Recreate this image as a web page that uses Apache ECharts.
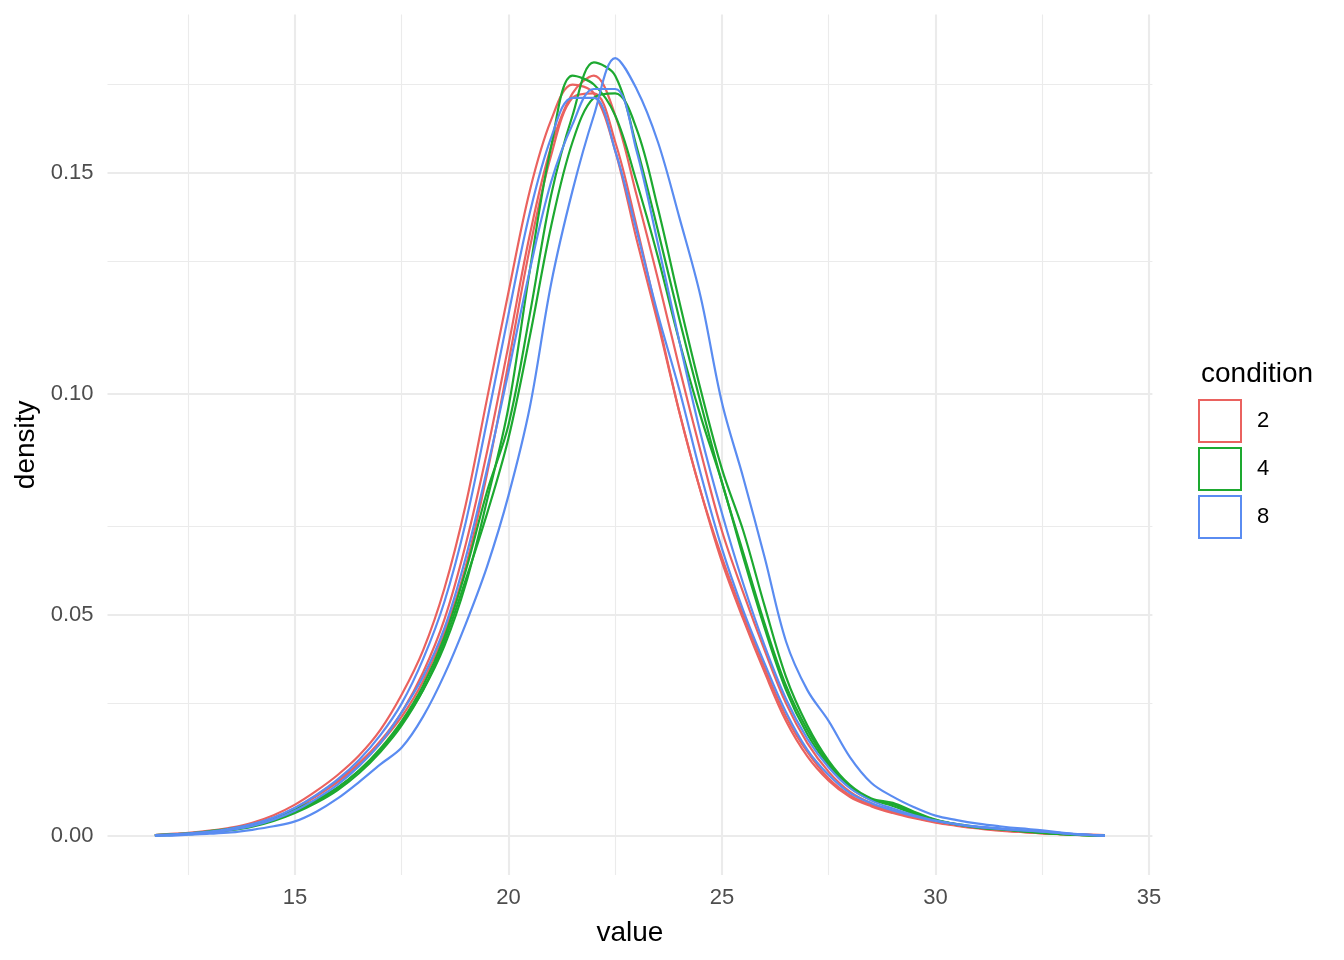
<!DOCTYPE html>
<html><head><meta charset="utf-8">
<script src="https://cdn.jsdelivr.net/npm/echarts@6/dist/echarts.min.js"></script>
<style>html,body{margin:0;padding:0;background:#fff}#c{width:1344px;height:960px}</style>
</head><body><div id="c"></div>
<script>
const xValues = [11.72,12,12.5,13,13.5,14,14.5,15,15.5,16,16.5,17,17.5,18,18.5,19,19.5,20,20.5,21,21.5,22,22.5,23,23.5,24,24.5,25,25.5,26,26.5,27,27.5,28,28.5,29,29.5,30,30.5,31,31.5,32,32.5,33,33.5,33.97];

const cond2a = [0.0002,0.0004,0.0007,0.0012,0.0019,0.0030,0.0047,0.0071,0.0102,0.0138,0.0182,0.0240,0.032,0.042,0.056,0.075,0.099,0.123,0.146,0.162,0.170,0.168,0.155,0.135,0.116,0.096,0.078,0.062,0.049,0.037,0.026,0.018,0.0125,0.0088,0.0067,0.0052,0.0040,0.0030,0.0023,0.0017,0.0012,0.0009,0.0006,0.0004,0.0002,0.0001];
const cond2b = [0.0002,0.0003,0.0006,0.0010,0.0016,0.0026,0.0041,0.0063,0.0092,0.0125,0.0165,0.0215,0.028,0.037,0.049,0.066,0.087,0.111,0.136,0.156,0.168,0.172,0.163,0.145,0.126,0.106,0.087,0.069,0.055,0.042,0.030,0.021,0.0145,0.0100,0.0074,0.0057,0.0043,0.0033,0.0025,0.0019,0.0014,0.0010,0.0007,0.0004,0.0003,0.0002];
const cond2c = [0.0002,0.0003,0.0005,0.0009,0.0015,0.0024,0.0039,0.0062,0.0090,0.0122,0.0160,0.0210,0.027,0.035,0.046,0.061,0.082,0.107,0.133,0.154,0.167,0.168,0.157,0.138,0.117,0.096,0.078,0.063,0.050,0.038,0.027,0.019,0.0130,0.0092,0.0070,0.0055,0.0042,0.0032,0.0024,0.0018,0.0013,0.0009,0.0006,0.0004,0.0003,0.0002];

const cond4a = [0.0002,0.0003,0.0006,0.0011,0.0017,0.0026,0.0040,0.0060,0.0082,0.0110,0.0148,0.0195,0.0255,0.033,0.043,0.057,0.076,0.097,0.128,0.156,0.172,0.170,0.163,0.148,0.131,0.112,0.095,0.080,0.063,0.047,0.033,0.023,0.0160,0.0110,0.0082,0.0072,0.0052,0.0035,0.0027,0.0020,0.0016,0.0011,0.0007,0.0004,0.0002,0.0001];
const cond4b = [0.0002,0.0003,0.0005,0.0009,0.0015,0.0023,0.0036,0.0055,0.0078,0.0108,0.0148,0.0198,0.026,0.034,0.045,0.060,0.078,0.093,0.118,0.145,0.163,0.175,0.172,0.156,0.137,0.117,0.098,0.080,0.064,0.048,0.034,0.024,0.0165,0.0112,0.0083,0.0068,0.0050,0.0036,0.0026,0.0019,0.0015,0.0011,0.0007,0.0004,0.0002,0.0001];
const cond4c = [0.0001,0.0002,0.0004,0.0008,0.0013,0.0021,0.0034,0.0052,0.0075,0.0104,0.0142,0.0190,0.025,0.033,0.044,0.058,0.073,0.090,0.113,0.138,0.157,0.167,0.168,0.160,0.142,0.121,0.101,0.083,0.069,0.052,0.036,0.025,0.0170,0.0115,0.0085,0.0075,0.0055,0.0037,0.0026,0.0019,0.0016,0.0012,0.0008,0.0004,0.0002,0.0001];

const cond8a = [0.0001,0.0001,0.0003,0.0005,0.0008,0.0014,0.0022,0.0033,0.0055,0.0085,0.0122,0.0162,0.0200,0.0270,0.0365,0.048,0.061,0.077,0.097,0.125,0.146,0.163,0.176,0.169,0.157,0.140,0.122,0.098,0.081,0.063,0.044,0.033,0.026,0.0178,0.0120,0.0089,0.0065,0.0046,0.0036,0.0028,0.0022,0.0017,0.0013,0.0007,0.0003,0.0001];
const cond8b = [0.0001,0.0002,0.0004,0.0008,0.0014,0.0023,0.0037,0.0057,0.0084,0.0116,0.0158,0.0210,0.028,0.036,0.047,0.063,0.083,0.105,0.128,0.148,0.161,0.169,0.169,0.155,0.134,0.112,0.091,0.073,0.057,0.043,0.031,0.022,0.0155,0.0108,0.0080,0.0062,0.0047,0.0035,0.0027,0.0021,0.0017,0.0013,0.0010,0.0006,0.0003,0.0001];
const cond8c = [0.0002,0.0003,0.0006,0.0010,0.0017,0.0027,0.0042,0.0064,0.0093,0.0128,0.0172,0.0228,0.030,0.040,0.053,0.071,0.094,0.118,0.141,0.158,0.167,0.167,0.155,0.137,0.118,0.101,0.082,0.065,0.051,0.039,0.028,0.0195,0.0138,0.0097,0.0074,0.0058,0.0045,0.0034,0.0026,0.0020,0.0016,0.0013,0.0010,0.0006,0.0003,0.0001];

const xTickLabels = [15, 20, 25, 30, 35];
const xMinorBreaks = [12.5, 17.5, 22.5, 27.5, 32.5];
const yTickLabels = [0, 0.05, 0.10, 0.15];
const yMinorBreaks = [0.025, 0.075, 0.125, 0.175];
const conditionNames = ['2', '4', '8'];
const conditionColors = ['#EA625F', '#1DA930', '#5A8CF1'];

const curves = [
  {cond: 0, ys: cond2a}, {cond: 0, ys: cond2b}, {cond: 0, ys: cond2c},
  {cond: 1, ys: cond4a}, {cond: 1, ys: cond4b}, {cond: 1, ys: cond4c},
  {cond: 2, ys: cond8a}, {cond: 2, ys: cond8b}, {cond: 2, ys: cond8c}
];

const FONT = 'Liberation Sans, Arial, Helvetica, sans-serif';
const gridColor = '#EBEBEB';

const gridMarks = [];
xTickLabels.forEach(v => gridMarks.push({xAxis: v, lineStyle: {color: gridColor, width: 2.1, type: 'solid'}}));
xMinorBreaks.forEach(v => gridMarks.push({xAxis: v, lineStyle: {color: gridColor, width: 1.1, type: 'solid'}}));
yTickLabels.forEach(v => gridMarks.push({yAxis: v, lineStyle: {color: gridColor, width: 2.1, type: 'solid'}}));
yMinorBreaks.forEach(v => gridMarks.push({yAxis: v, lineStyle: {color: gridColor, width: 1.1, type: 'solid'}}));

const series = [{
  name: '_grid', type: 'line', data: [[20, 0]], showSymbol: false, silent: true, z: 0,
  lineStyle: {opacity: 0}, animation: false,
  markLine: {silent: true, z: 0, symbol: ['none', 'none'], label: {show: false}, emphasis: {disabled: true}, animation: false, data: gridMarks}
}];
curves.forEach(c => {
  series.push({
    name: conditionNames[c.cond], type: 'line', smooth: 0.35, showSymbol: false, z: 5,
    data: xValues.map((x, i) => [x, c.ys[i]]),
    lineStyle: {color: conditionColors[c.cond], width: 2.2},
    itemStyle: {color: conditionColors[c.cond]},
    animation: false
  });
});

const chart = echarts.init(document.getElementById('c'), null, {renderer: 'canvas'});
chart.setOption({
  backgroundColor: '#fff',
  animation: false,
  title: {text: 'condition', left: 1196, top: 355, textStyle: {fontFamily: FONT, fontSize: 28, fontWeight: 'normal', color: '#000'}},
  legend: {
    orient: 'vertical', left: 1198, top: 399, padding: 0, itemGap: 4, itemWidth: 42, itemHeight: 42,
    selectedMode: false,
    textStyle: {fontFamily: FONT, fontSize: 22, color: '#000', padding: [3, 0, 0, 11]},
    data: conditionNames.map((n, i) => ({name: n, icon: 'rect', itemStyle: {color: '#fff', borderColor: conditionColors[i], borderWidth: 2}}))
  },
  grid: {left: 107.5, right: 191.6, top: 14.5, bottom: 84.9, containLabel: false},
  xAxis: {
    type: 'value', min: 10.61, max: 35.08,
    name: 'value', nameLocation: 'middle', nameGap: 44,
    nameTextStyle: {fontFamily: FONT, fontSize: 28, color: '#000'},
    axisLine: {show: false}, axisTick: {show: false}, splitLine: {show: false},
    axisLabel: {customValues: xTickLabels, fontFamily: FONT, fontSize: 22, color: '#4D4D4D', margin: 12}
  },
  yAxis: {
    type: 'value', min: -0.00885, max: 0.18585,
    name: 'density', nameLocation: 'middle', nameGap: 64, nameRotate: 90,
    nameTextStyle: {fontFamily: FONT, fontSize: 28, color: '#000'},
    axisLine: {show: false}, axisTick: {show: false}, splitLine: {show: false},
    axisLabel: {customValues: yTickLabels, formatter: v => v.toFixed(2), fontFamily: FONT, fontSize: 22, color: '#4D4D4D', margin: 14}
  },
  series: series
});
</script></body></html>
